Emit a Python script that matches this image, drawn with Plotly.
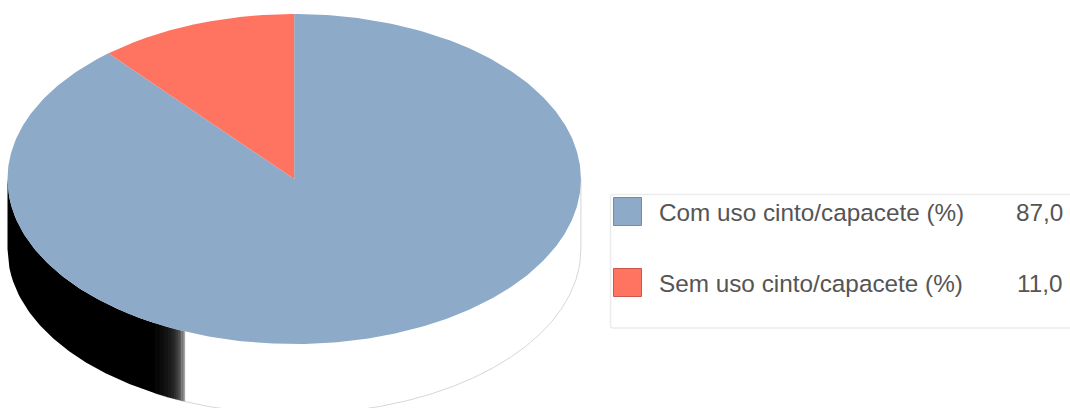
import numpy as np
import plotly.graph_objects as go

labels = ["Com uso cinto/capacete (%)", "Sem uso cinto/capacete (%)"]
values = [87.0, 11.0]
value_text = ["87,0", "11,0"]
colors = ["#8eaac9", "#ff7461"]
swatch_lines = ["#6f8cb0", "#c9584a"]

W, H = 1070, 408
CX, CY, RX, RY, DEPTH = 294.2, 179.0, 286.7, 165.0, 70.0
SPLIT_X = 185.0
band_edges = [155, 160, 164, 168, 171, 174, 176, 178, 180, 181.5, 183, 184, 185]
band_colors = ["#060606", "#0c0c0c", "#131313", "#1a1a1a", "#232323", "#2e2e2e",
               "#3a3a3a", "#4a4a4a", "#5c5c5c", "#707070", "#888888", "#a6a6a6"]


def y_top(x):
    return CY + RY * np.sqrt(np.clip(1 - ((x - CX) / RX) ** 2, 0, 1))


def band(x0, x1):
    xs = np.linspace(x0, x1, 80)
    px = np.concatenate([xs, xs[::-1], xs[:1]])
    py = np.concatenate([y_top(xs), y_top(xs[::-1]) + DEPTH, y_top(xs[:1])])
    return px, py


def add_poly(fig, px, py, fill, line_width=0.5):
    fig.add_trace(go.Scatter(
        x=px, y=py, mode="lines", fill="toself", fillcolor=fill,
        line=dict(color=fill, width=line_width),
        hoverinfo="skip", showlegend=False))


fig = go.Figure()

# extruded side: dark part
px, py = band(CX - RX, band_edges[0])
add_poly(fig, px, py, "#000000", 0)
for i, c in enumerate(band_colors):
    px, py = band(band_edges[i], band_edges[i + 1])
    add_poly(fig, px, py, c, 0.3)

# extruded side: outline of the white part
xs = np.linspace(SPLIT_X, CX + RX, 400)
fig.add_trace(go.Scatter(
    x=np.concatenate([xs, [CX + RX]]),
    y=np.concatenate([y_top(xs) + DEPTH, [CY]]),
    mode="lines", line=dict(color="#cccccc", width=0.8),
    hoverinfo="skip", showlegend=False))

# top face slices, clockwise from twelve o'clock
total = sum(values)
start = 0.0
for v, c, name in zip(values, colors, labels):
    sweep = 2 * np.pi * v / total
    t = np.linspace(start, start + sweep, 400)
    px = np.concatenate([[CX], CX + RX * np.sin(t), [CX]])
    py = np.concatenate([[CY], CY - RY * np.cos(t), [CY]])
    add_poly(fig, px, py, c, 0)
    start += sweep

shapes = [dict(
    type="path", xref="x", yref="y", layer="below",
    path="M 1075 194.5 L 613 194.5 Q 610.5 194.5 610.5 197 L 610.5 325.5 Q 610.5 328 613 328 L 1075 328",
    line=dict(color="#ececec", width=1.5), fillcolor="#ffffff")]
annotations = []
for i, (name, vt, c, lc) in enumerate(zip(labels, value_text, colors, swatch_lines)):
    y0 = 197.5 + 71 * i
    shapes.append(dict(type="rect", xref="x", yref="y", x0=613.5, x1=641.5,
                       y0=y0, y1=y0 + 28, fillcolor=c, line=dict(color=lc, width=1)))
    annotations.append(dict(x=657, y=y0 + 15, xref="x", yref="y", text=name, showarrow=False,
                            xanchor="left", yanchor="middle",
                            font=dict(family="Liberation Sans", size=24.3, color="#555555")))
    annotations.append(dict(x=1065, y=y0 + 15, xref="x", yref="y", text=vt, showarrow=False,
                            xanchor="right", yanchor="middle",
                            font=dict(family="Liberation Sans", size=24.3, color="#555555")))

fig.update_layout(
    width=W, height=H, margin=dict(l=0, r=0, t=0, b=0),
    paper_bgcolor="#ffffff", plot_bgcolor="#ffffff", showlegend=False,
    shapes=shapes, annotations=annotations,
    xaxis=dict(range=[0, W], visible=False, fixedrange=True),
    yaxis=dict(range=[H, 0], visible=False, fixedrange=True),
)
fig.write_html("out.html", config=dict(displayModeBar=False),
               post_script="document.body.style.margin='0';")
